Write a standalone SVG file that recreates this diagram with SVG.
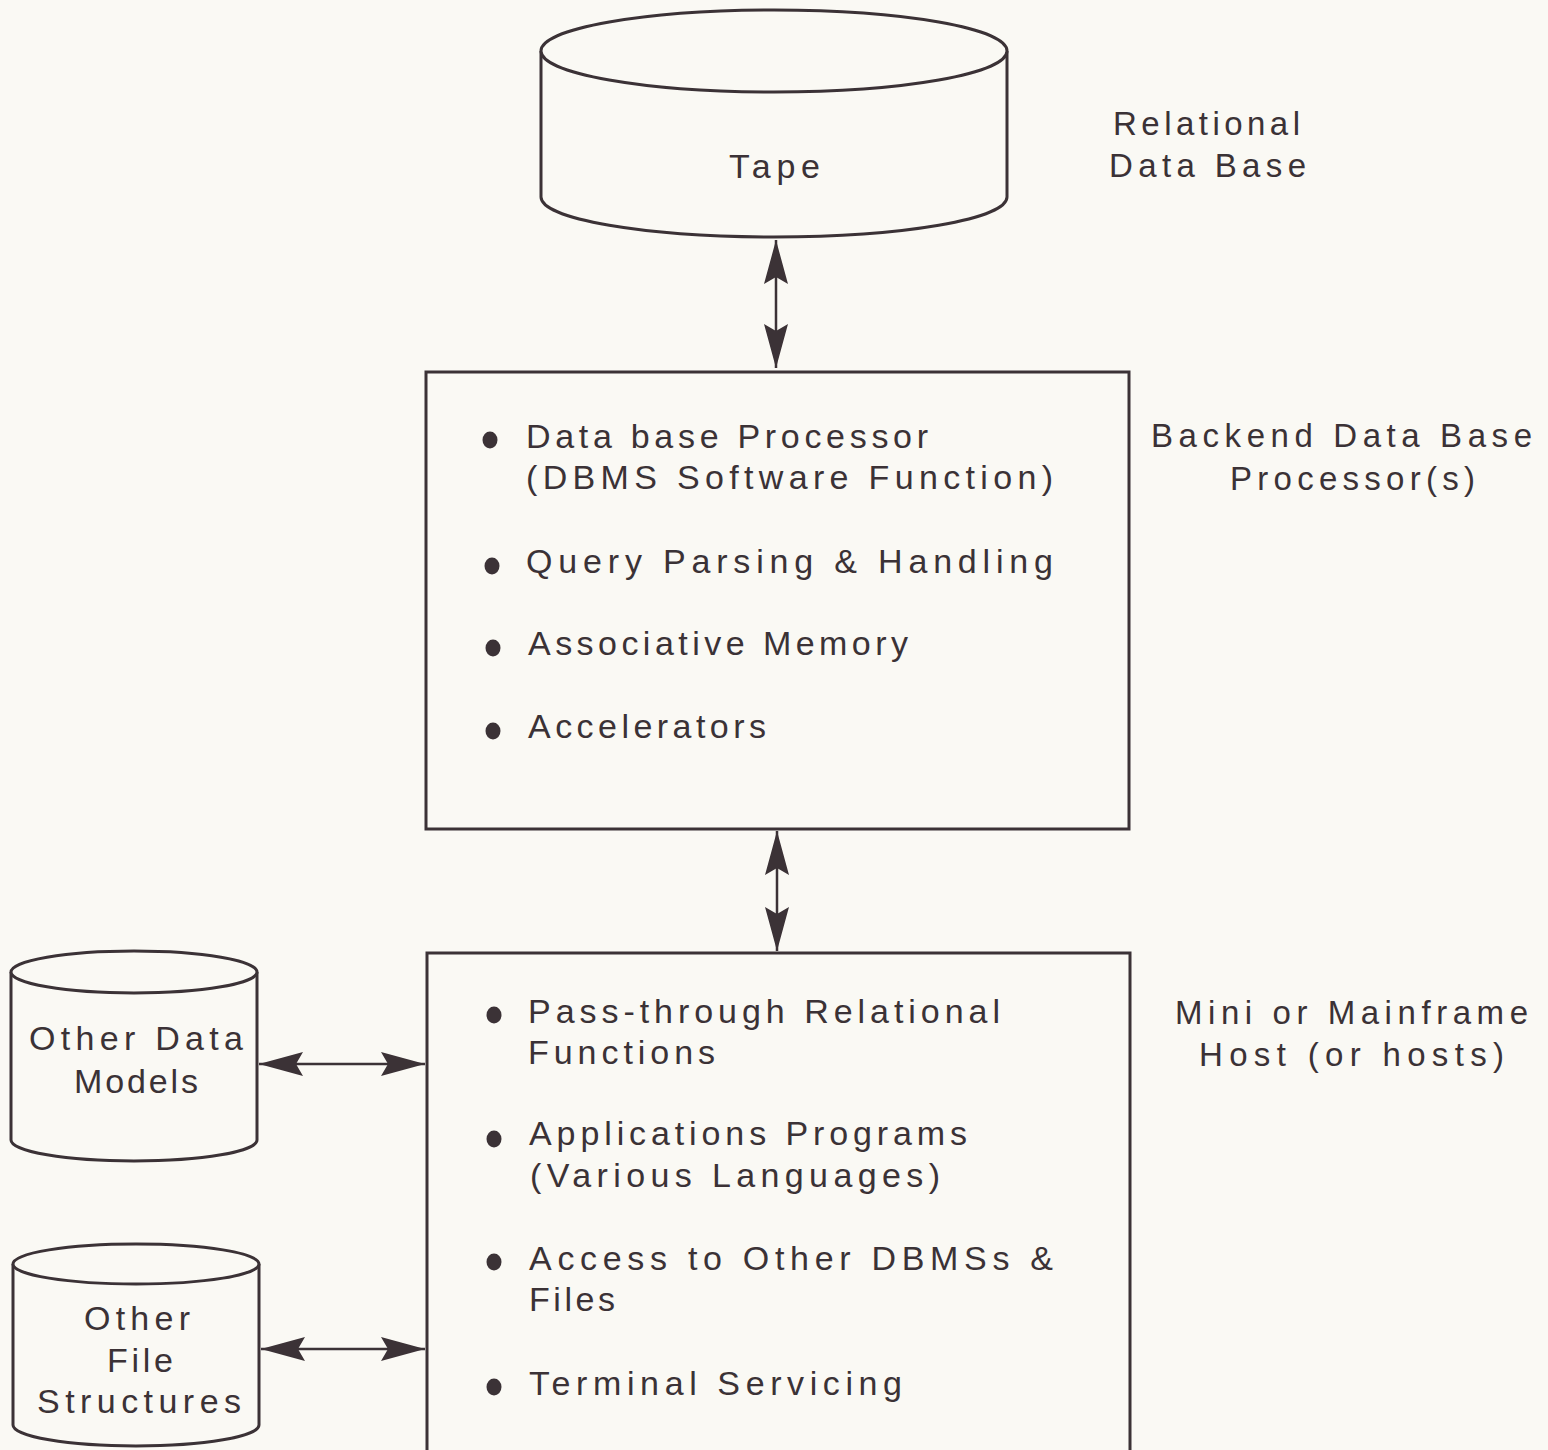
<svg xmlns="http://www.w3.org/2000/svg" width="1548" height="1450" viewBox="0 0 1548 1450">
  <style>
    .shape { fill: #faf9f4; stroke: #3b3236; stroke-width: 3; }
    .link { fill: none; stroke: #3b3236; stroke-width: 2.5; }
    .txt { font-family: "Liberation Sans", Arial, sans-serif; font-size: 34px; fill: #3b3236; }
    .side { font-family: "Liberation Sans", Arial, sans-serif; font-size: 33px; fill: #3b3236; }
    .dot { fill: #3b3236; }
  </style>
  <defs>
    <marker id="head" markerUnits="userSpaceOnUse" viewBox="-46 -14 48 28" markerWidth="48" markerHeight="28" refX="0" refY="0" orient="auto-start-reverse">
      <path d="M0,0 L-44,-12 L-37,0 L-44,12 Z" fill="#3b3236"/>
    </marker>
  </defs>
  <rect width="1548" height="1450" fill="#faf9f4"/>

  <!-- storage: relational data base on tape -->
  <g id="tape">
    <path class="shape" d="M541,51 L541,197 A233,40 0 0 0 1007,197 L1007,51"/>
    <ellipse class="shape" cx="774" cy="51" rx="233" ry="41"/>
    <text class="txt" x="729" y="178" font-size="36" textLength="91" lengthAdjust="spacing">Tape</text>
  </g>

  <g id="label-relational">
    <text class="side" x="1113" y="135" textLength="187" lengthAdjust="spacing">Relational</text>
    <text class="side" x="1109" y="177" textLength="197" lengthAdjust="spacing">Data Base</text>
  </g>

  <!-- backend processor box -->
  <g id="backend">
    <rect class="shape" x="426" y="372" width="703" height="457"/>
    <ellipse class="dot" cx="490" cy="440" rx="7.5" ry="8.5"/>
    <text class="txt" x="526" y="448" textLength="402" lengthAdjust="spacing">Data base Processor</text>
    <text class="txt" x="526" y="489" textLength="527" lengthAdjust="spacing">(DBMS Software Function)</text>
    <ellipse class="dot" cx="492" cy="566" rx="7.5" ry="8.5"/>
    <text class="txt" x="526" y="573" textLength="527" lengthAdjust="spacing">Query Parsing &amp; Handling</text>
    <ellipse class="dot" cx="493" cy="648" rx="7.5" ry="8.5"/>
    <text class="txt" x="528" y="655" textLength="380" lengthAdjust="spacing">Associative Memory</text>
    <ellipse class="dot" cx="493" cy="731" rx="7.5" ry="8.5"/>
    <text class="txt" x="528" y="738" textLength="238" lengthAdjust="spacing">Accelerators</text>
  </g>

  <g id="label-backend">
    <text class="side" x="1151" y="447" textLength="381" lengthAdjust="spacing">Backend Data Base</text>
    <text class="side" x="1230" y="490" textLength="245" lengthAdjust="spacing">Processor(s)</text>
  </g>

  <!-- host box -->
  <g id="host">
    <rect class="shape" x="427" y="953" width="703" height="520"/>
    <ellipse class="dot" cx="494" cy="1015" rx="7.5" ry="8.5"/>
    <text class="txt" x="528" y="1023" textLength="472" lengthAdjust="spacing">Pass-through Relational</text>
    <text class="txt" x="528" y="1064" textLength="187" lengthAdjust="spacing">Functions</text>
    <ellipse class="dot" cx="494" cy="1139" rx="7.5" ry="8.5"/>
    <text class="txt" x="529" y="1145" textLength="438" lengthAdjust="spacing">Applications Programs</text>
    <text class="txt" x="530" y="1187" textLength="410" lengthAdjust="spacing">(Various Languages)</text>
    <ellipse class="dot" cx="494" cy="1262" rx="7.5" ry="8.5"/>
    <text class="txt" x="529" y="1270" textLength="524" lengthAdjust="spacing">Access to Other  DBMSs &amp;</text>
    <text class="txt" x="529" y="1311" textLength="86" lengthAdjust="spacing">Files</text>
    <ellipse class="dot" cx="494" cy="1387" rx="7.5" ry="8.5"/>
    <text class="txt" x="529" y="1395" textLength="373" lengthAdjust="spacing">Terminal Servicing</text>
  </g>

  <g id="label-host">
    <text class="side" x="1175" y="1024" textLength="353" lengthAdjust="spacing">Mini or Mainframe</text>
    <text class="side" x="1199" y="1066" textLength="305" lengthAdjust="spacing">Host (or hosts)</text>
  </g>

  <!-- side storage cylinders -->
  <g id="other-data-models">
    <path class="shape" d="M11,972 L11,1140 A123,21 0 0 0 257,1140 L257,972"/>
    <ellipse class="shape" cx="134" cy="972" rx="123" ry="21"/>
    <text class="txt" x="29" y="1050" textLength="214" lengthAdjust="spacing">Other Data</text>
    <text class="txt" x="74" y="1093" textLength="124" lengthAdjust="spacing">Models</text>
  </g>

  <g id="other-file-structures">
    <path class="shape" d="M13,1264 L13,1425 A123,21 0 0 0 259,1425 L259,1264"/>
    <ellipse class="shape" cx="136" cy="1264" rx="123" ry="20"/>
    <text class="txt" x="84" y="1330" textLength="106" lengthAdjust="spacing">Other</text>
    <text class="txt" x="107" y="1372" textLength="66" lengthAdjust="spacing">File</text>
    <text class="txt" x="37" y="1413" textLength="204" lengthAdjust="spacing">Structures</text>
  </g>

  <!-- two-way connectors -->
  <g id="connectors">
    <line class="link" x1="776" y1="240" x2="776" y2="368" marker-start="url(#head)" marker-end="url(#head)"/>
    <line class="link" x1="777" y1="831" x2="777" y2="951" marker-start="url(#head)" marker-end="url(#head)"/>
    <line class="link" x1="259" y1="1064" x2="425" y2="1064" marker-start="url(#head)" marker-end="url(#head)"/>
    <line class="link" x1="261" y1="1349" x2="425" y2="1349" marker-start="url(#head)" marker-end="url(#head)"/>
  </g>
</svg>
